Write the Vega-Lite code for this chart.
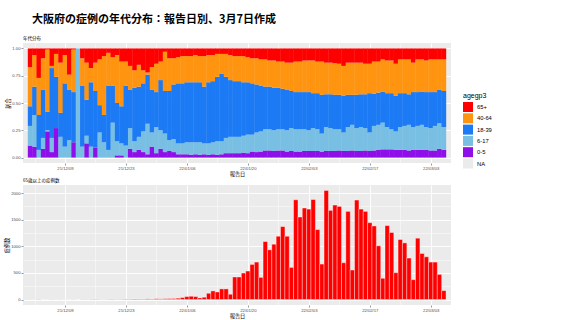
{
"$schema": "https://vega.github.io/schema/vega-lite/v6.json",
"background": "white",
"padding": {"left": 4, "top": 14, "right": 5, "bottom": 1},
"title": {"text": "大阪府の症例の年代分布：報告日別、3月7日作成", "anchor": "start", "frame": "group", "dx": 9, "offset": 11, "font": "Noto Sans CJK JP", "fontSize": 11, "fontWeight": "bold", "color": "#000000"},
"spacing": 1,
"datasets": {
"groups": [{"agegp3": "0-5", "k": 1}, {"agegp3": "6-17", "k": 2}, {"agegp3": "18-39", "k": 3}, {"agegp3": "40-64", "k": 4}, {"agegp3": "65+", "k": 5}],
"shares": [
{"d":"2021-12-01","0-5":0.11,"6-17":0.18,"18-39":0.18,"40-64":0.36,"65+":0.17},
{"d":"2021-12-02","0-5":0.10,"6-17":0.29,"18-39":0.26,"40-64":0.29,"65+":0.06},
{"d":"2021-12-03","0-5":0,"6-17":0.07,"18-39":0.32,"40-64":0.34,"65+":0.27},
{"d":"2021-12-04","0-5":0.08,"6-17":0.10,"18-39":0.44,"40-64":0.29,"65+":0.09},
{"d":"2021-12-05","0-5":0.24,"6-17":0.01,"18-39":0.17,"40-64":0.57,"65+":0.01},
{"d":"2021-12-06","0-5":0.05,"6-17":0.13,"18-39":0.64,"40-64":0.02,"65+":0.16},
{"d":"2021-12-07","0-5":0.27,"6-17":0,"18-39":0.47,"40-64":0.21,"65+":0.05},
{"d":"2021-12-08","0-5":0,"6-17":0.19,"18-39":0.22,"40-64":0.46,"65+":0.13},
{"d":"2021-12-09","0-5":0,"6-17":0.10,"18-39":0.58,"40-64":0.26,"65+":0.06},
{"d":"2021-12-10","0-5":0,"6-17":0.16,"18-39":0.46,"40-64":0.14,"65+":0.24},
{"d":"2021-12-11","0-5":0.14,"6-17":0,"18-39":0.46,"40-64":0.39,"65+":0.01},
{"d":"2021-12-12","0-5":0,"6-17":1,"18-39":0,"40-64":0,"65+":0},
{"d":"2021-12-13","0-5":0,"6-17":0.10,"18-39":0.56,"40-64":0.25,"65+":0.09},
{"d":"2021-12-14","0-5":0.13,"6-17":0.07,"18-39":0.33,"40-64":0.34,"65+":0.13},
{"d":"2021-12-15","0-5":0,"6-17":0.10,"18-39":0.59,"40-64":0.13,"65+":0.18},
{"d":"2021-12-16","0-5":0.09,"6-17":0,"18-39":0.52,"40-64":0.26,"65+":0.13},
{"d":"2021-12-17","0-5":0,"6-17":0.23,"18-39":0.25,"40-64":0.42,"65+":0.10},
{"d":"2021-12-18","0-5":0,"6-17":0.14,"18-39":0.25,"40-64":0.54,"65+":0.07},
{"d":"2021-12-19","0-5":0,"6-17":0.07,"18-39":0.59,"40-64":0.30,"65+":0.04},
{"d":"2021-12-20","0-5":0,"6-17":0.32,"18-39":0.34,"40-64":0.26,"65+":0.08},
{"d":"2021-12-21","0-5":0.02,"6-17":0.13,"18-39":0.35,"40-64":0.44,"65+":0.06},
{"d":"2021-12-22","0-5":0.02,"6-17":0.11,"18-39":0.34,"40-64":0.41,"65+":0.12},
{"d":"2021-12-23","0-5":0,"6-17":0.11,"18-39":0.55,"40-64":0.22,"65+":0.12},
{"d":"2021-12-24","0-5":0.08,"6-17":0.19,"18-39":0.35,"40-64":0.22,"65+":0.16},
{"d":"2021-12-25","0-5":0.05,"6-17":0.10,"18-39":0.49,"40-64":0.16,"65+":0.20},
{"d":"2021-12-26","0-5":0.07,"6-17":0.12,"18-39":0.46,"40-64":0.20,"65+":0.15},
{"d":"2021-12-27","0-5":0.05,"6-17":0.19,"18-39":0.44,"40-64":0.12,"65+":0.20},
{"d":"2021-12-28","0-5":0.03,"6-17":0.28,"18-39":0.45,"40-64":0.02,"65+":0.22},
{"d":"2021-12-29","0-5":0.10,"6-17":0.13,"18-39":0.39,"40-64":0.21,"65+":0.17},
{"d":"2021-12-30","0-5":0.04,"6-17":0.24,"18-39":0.32,"40-64":0.26,"65+":0.14},
{"d":"2021-12-31","0-5":0.08,"6-17":0.17,"18-39":0.46,"40-64":0.17,"65+":0.12},
{"d":"2022-01-01","0-5":0.05,"6-17":0.17,"18-39":0.39,"40-64":0.36,"65+":0.03},
{"d":"2022-01-02","0-5":0.06,"6-17":0.10,"18-39":0.45,"40-64":0.30,"65+":0.09},
{"d":"2022-01-03","0-5":0.05,"6-17":0.12,"18-39":0.50,"40-64":0.24,"65+":0.09},
{"d":"2022-01-04","0-5":0.03,"6-17":0.10,"18-39":0.55,"40-64":0.24,"65+":0.08},
{"d":"2022-01-05","0-5":0.03,"6-17":0.10,"18-39":0.55,"40-64":0.25,"65+":0.07},
{"d":"2022-01-06","0-5":0.03,"6-17":0.11,"18-39":0.55,"40-64":0.24,"65+":0.07},
{"d":"2022-01-07","0-5":0.025,"6-17":0.115,"18-39":0.55,"40-64":0.24,"65+":0.07},
{"d":"2022-01-08","0-5":0.03,"6-17":0.11,"18-39":0.55,"40-64":0.25,"65+":0.06},
{"d":"2022-01-09","0-5":0.025,"6-17":0.115,"18-39":0.55,"40-64":0.24,"65+":0.07},
{"d":"2022-01-10","0-5":0.03,"6-17":0.10,"18-39":0.52,"40-64":0.28,"65+":0.07},
{"d":"2022-01-11","0-5":0.025,"6-17":0.105,"18-39":0.56,"40-64":0.25,"65+":0.06},
{"d":"2022-01-12","0-5":0.03,"6-17":0.11,"18-39":0.56,"40-64":0.24,"65+":0.06},
{"d":"2022-01-13","0-5":0.025,"6-17":0.125,"18-39":0.59,"40-64":0.21,"65+":0.05},
{"d":"2022-01-14","0-5":0.03,"6-17":0.12,"18-39":0.62,"40-64":0.18,"65+":0.05},
{"d":"2022-01-15","0-5":0.04,"6-17":0.14,"18-39":0.56,"40-64":0.21,"65+":0.05},
{"d":"2022-01-16","0-5":0.04,"6-17":0.15,"18-39":0.52,"40-64":0.23,"65+":0.06},
{"d":"2022-01-17","0-5":0.04,"6-17":0.15,"18-39":0.51,"40-64":0.23,"65+":0.07},
{"d":"2022-01-18","0-5":0.04,"6-17":0.15,"18-39":0.51,"40-64":0.23,"65+":0.07},
{"d":"2022-01-19","0-5":0.045,"6-17":0.155,"18-39":0.49,"40-64":0.24,"65+":0.07},
{"d":"2022-01-20","0-5":0.04,"6-17":0.17,"18-39":0.48,"40-64":0.23,"65+":0.08},
{"d":"2022-01-21","0-5":0.055,"6-17":0.155,"18-39":0.47,"40-64":0.23,"65+":0.09},
{"d":"2022-01-22","0-5":0.05,"6-17":0.18,"18-39":0.44,"40-64":0.24,"65+":0.09},
{"d":"2022-01-23","0-5":0.055,"6-17":0.185,"18-39":0.42,"40-64":0.24,"65+":0.10},
{"d":"2022-01-24","0-5":0.065,"6-17":0.195,"18-39":0.39,"40-64":0.25,"65+":0.10},
{"d":"2022-01-25","0-5":0.065,"6-17":0.195,"18-39":0.39,"40-64":0.24,"65+":0.11},
{"d":"2022-01-26","0-5":0.06,"6-17":0.19,"18-39":0.39,"40-64":0.25,"65+":0.11},
{"d":"2022-01-27","0-5":0.065,"6-17":0.195,"18-39":0.38,"40-64":0.24,"65+":0.12},
{"d":"2022-01-28","0-5":0.065,"6-17":0.195,"18-39":0.37,"40-64":0.25,"65+":0.12},
{"d":"2022-01-29","0-5":0.055,"6-17":0.195,"18-39":0.37,"40-64":0.25,"65+":0.13},
{"d":"2022-01-30","0-5":0.06,"6-17":0.21,"18-39":0.34,"40-64":0.26,"65+":0.13},
{"d":"2022-01-31","0-5":0.055,"6-17":0.205,"18-39":0.34,"40-64":0.28,"65+":0.12},
{"d":"2022-02-01","0-5":0.055,"6-17":0.205,"18-39":0.34,"40-64":0.28,"65+":0.12},
{"d":"2022-02-02","0-5":0.06,"6-17":0.20,"18-39":0.34,"40-64":0.29,"65+":0.11},
{"d":"2022-02-03","0-5":0.06,"6-17":0.19,"18-39":0.35,"40-64":0.29,"65+":0.11},
{"d":"2022-02-04","0-5":0.06,"6-17":0.21,"18-39":0.32,"40-64":0.30,"65+":0.11},
{"d":"2022-02-05","0-5":0.06,"6-17":0.20,"18-39":0.33,"40-64":0.29,"65+":0.12},
{"d":"2022-02-06","0-5":0.055,"6-17":0.165,"18-39":0.355,"40-64":0.305,"65+":0.12},
{"d":"2022-02-07","0-5":0.06,"6-17":0.22,"18-39":0.30,"40-64":0.29,"65+":0.13},
{"d":"2022-02-08","0-5":0.06,"6-17":0.21,"18-39":0.31,"40-64":0.29,"65+":0.13},
{"d":"2022-02-09","0-5":0.06,"6-17":0.20,"18-39":0.315,"40-64":0.29,"65+":0.135},
{"d":"2022-02-10","0-5":0.065,"6-17":0.195,"18-39":0.315,"40-64":0.285,"65+":0.14},
{"d":"2022-02-11","0-5":0.06,"6-17":0.17,"18-39":0.335,"40-64":0.275,"65+":0.16},
{"d":"2022-02-12","0-5":0.06,"6-17":0.22,"18-39":0.295,"40-64":0.295,"65+":0.13},
{"d":"2022-02-13","0-5":0.065,"6-17":0.235,"18-39":0.275,"40-64":0.295,"65+":0.13},
{"d":"2022-02-14","0-5":0.06,"6-17":0.21,"18-39":0.305,"40-64":0.295,"65+":0.13},
{"d":"2022-02-15","0-5":0.06,"6-17":0.22,"18-39":0.30,"40-64":0.29,"65+":0.13},
{"d":"2022-02-16","0-5":0.065,"6-17":0.205,"18-39":0.31,"40-64":0.28,"65+":0.14},
{"d":"2022-02-17","0-5":0.06,"6-17":0.17,"18-39":0.36,"40-64":0.27,"65+":0.14},
{"d":"2022-02-18","0-5":0.065,"6-17":0.225,"18-39":0.295,"40-64":0.295,"65+":0.12},
{"d":"2022-02-19","0-5":0.07,"6-17":0.23,"18-39":0.295,"40-64":0.285,"65+":0.12},
{"d":"2022-02-20","0-5":0.075,"6-17":0.245,"18-39":0.285,"40-64":0.295,"65+":0.10},
{"d":"2022-02-21","0-5":0.075,"6-17":0.205,"18-39":0.31,"40-64":0.30,"65+":0.11},
{"d":"2022-02-22","0-5":0.075,"6-17":0.185,"18-39":0.33,"40-64":0.30,"65+":0.11},
{"d":"2022-02-23","0-5":0.07,"6-17":0.17,"18-39":0.325,"40-64":0.295,"65+":0.14},
{"d":"2022-02-24","0-5":0.07,"6-17":0.21,"18-39":0.31,"40-64":0.31,"65+":0.10},
{"d":"2022-02-25","0-5":0.07,"6-17":0.22,"18-39":0.30,"40-64":0.31,"65+":0.10},
{"d":"2022-02-26","0-5":0.065,"6-17":0.235,"18-39":0.28,"40-64":0.32,"65+":0.10},
{"d":"2022-02-27","0-5":0.07,"6-17":0.21,"18-39":0.32,"40-64":0.27,"65+":0.13},
{"d":"2022-02-28","0-5":0.07,"6-17":0.22,"18-39":0.31,"40-64":0.30,"65+":0.10},
{"d":"2022-03-01","0-5":0.07,"6-17":0.23,"18-39":0.305,"40-64":0.295,"65+":0.10},
{"d":"2022-03-02","0-5":0.07,"6-17":0.21,"18-39":0.32,"40-64":0.29,"65+":0.11},
{"d":"2022-03-03","0-5":0.065,"6-17":0.205,"18-39":0.33,"40-64":0.30,"65+":0.10},
{"d":"2022-03-04","0-5":0.065,"6-17":0.225,"18-39":0.31,"40-64":0.30,"65+":0.10},
{"d":"2022-03-05","0-5":0.08,"6-17":0.235,"18-39":0.305,"40-64":0.28,"65+":0.10},
{"d":"2022-03-06","0-5":0.07,"6-17":0.21,"18-39":0.33,"40-64":0.29,"65+":0.10}
],
"old": [
{"d":"2021-12-01","n":3},{"d":"2021-12-02","n":2},{"d":"2021-12-03","n":5},{"d":"2021-12-04","n":1},{"d":"2021-12-05","n":1},{"d":"2021-12-06","n":4},{"d":"2021-12-07","n":2},{"d":"2021-12-08","n":3},{"d":"2021-12-09","n":2},{"d":"2021-12-10","n":1},
{"d":"2021-12-11","n":3},{"d":"2021-12-12","n":0},{"d":"2021-12-13","n":4},{"d":"2021-12-14","n":3},{"d":"2021-12-15","n":5},{"d":"2021-12-16","n":6},{"d":"2021-12-17","n":4},{"d":"2021-12-18","n":3},{"d":"2021-12-19","n":5},{"d":"2021-12-20","n":6},
{"d":"2021-12-21","n":4},{"d":"2021-12-22","n":5},{"d":"2021-12-23","n":8},{"d":"2021-12-24","n":7},{"d":"2021-12-25","n":10},{"d":"2021-12-26","n":9},{"d":"2021-12-27","n":8},{"d":"2021-12-28","n":12},{"d":"2021-12-29","n":10},{"d":"2021-12-30","n":15},
{"d":"2021-12-31","n":12},{"d":"2022-01-01","n":16},{"d":"2022-01-02","n":18},{"d":"2022-01-03","n":20},{"d":"2022-01-04","n":25},{"d":"2022-01-05","n":37},{"d":"2022-01-06","n":56},{"d":"2022-01-07","n":62},{"d":"2022-01-08","n":56},{"d":"2022-01-09","n":31},
{"d":"2022-01-10","n":44},{"d":"2022-01-11","n":118},{"d":"2022-01-12","n":162},{"d":"2022-01-13","n":143},{"d":"2022-01-14","n":200},{"d":"2022-01-15","n":200},{"d":"2022-01-16","n":100},{"d":"2022-01-17","n":424},{"d":"2022-01-18","n":424},{"d":"2022-01-19","n":498},
{"d":"2022-01-20","n":536},{"d":"2022-01-21","n":660},{"d":"2022-01-22","n":704},{"d":"2022-01-23","n":417},{"d":"2022-01-24","n":1090},{"d":"2022-01-25","n":935},{"d":"2022-01-26","n":1040},{"d":"2022-01-27","n":1190},{"d":"2022-01-28","n":1371},{"d":"2022-01-29","n":1190},
{"d":"2022-01-30","n":604},{"d":"2022-01-31","n":1875},{"d":"2022-02-01","n":1551},{"d":"2022-02-02","n":1720},{"d":"2022-02-03","n":1700},{"d":"2022-02-04","n":1880},{"d":"2022-02-05","n":1315},{"d":"2022-02-06","n":667},{"d":"2022-02-07","n":2050},{"d":"2022-02-08","n":1676},
{"d":"2022-02-09","n":1776},{"d":"2022-02-10","n":1750},{"d":"2022-02-11","n":692},{"d":"2022-02-12","n":1657},{"d":"2022-02-13","n":555},{"d":"2022-02-14","n":1870},{"d":"2022-02-15","n":1700},{"d":"2022-02-16","n":1657},{"d":"2022-02-17","n":1445},{"d":"2022-02-18","n":1383},
{"d":"2022-02-19","n":1010},{"d":"2022-02-20","n":400},{"d":"2022-02-21","n":1390},{"d":"2022-02-22","n":1260},{"d":"2022-02-23","n":505},{"d":"2022-02-24","n":1128},{"d":"2022-02-25","n":1065},{"d":"2022-02-26","n":780},{"d":"2022-02-27","n":374},{"d":"2022-02-28","n":1153},
{"d":"2022-03-01","n":866},{"d":"2022-03-02","n":804},{"d":"2022-03-03","n":704},{"d":"2022-03-04","n":704},{"d":"2022-03-05","n":473},{"d":"2022-03-06","n":168}
]
},
"vconcat": [
{
"width": 428, "height": 120,
"title": {"text": "年代分布", "anchor": "start", "frame": "group", "offset": 2.5, "font": "Noto Sans CJK JP", "fontSize": 4.5, "fontWeight": "normal", "color": "#000000"},
"data": {"name": "shares"},
"transform": [
{"fold": ["0-5", "6-17", "18-39", "40-64", "65+"], "as": ["agegp3", "share"]},
{"lookup": "agegp3", "from": {"data": {"name": "groups"}, "key": "agegp3", "fields": ["k"]}}
],
"mark": {"type": "bar", "size": 4.75},
"encoding": {
"x": {"field": "d", "type": "temporal", "title": "報告日",
"scale": {"type": "utc", "domain": [{"year": 2021, "month": 11, "date": 30, "hours": 12, "utc": true}, {"year": 2022, "month": 3, "date": 6, "hours": 12, "utc": true}]},
"axis": {"values": [{"year":2021,"month":12,"date":2,"utc":true},{"year":2021,"month":12,"date":9,"utc":true},{"year":2021,"month":12,"date":16,"utc":true},{"year":2021,"month":12,"date":23,"utc":true},{"year":2021,"month":12,"date":30,"utc":true},{"year":2022,"month":1,"date":6,"utc":true},{"year":2022,"month":1,"date":13,"utc":true},{"year":2022,"month":1,"date":20,"utc":true},{"year":2022,"month":1,"date":27,"utc":true},{"year":2022,"month":2,"date":3,"utc":true},{"year":2022,"month":2,"date":10,"utc":true},{"year":2022,"month":2,"date":17,"utc":true},{"year":2022,"month":2,"date":24,"utc":true},{"year":2022,"month":3,"date":3,"utc":true}],
"labelExpr": "indexof([3,6,9,17,20,23], utcdate(datum.value)) >= 0 ? utcFormat(datum.value, '%y/%m/%d') : ''",
"tickOpacity": {"condition": {"test": "indexof([3,6,9,17,20,23], utcdate(datum.value)) >= 0", "value": 1}, "value": 0},
"gridWidth": {"condition": {"test": "indexof([3,6,9,17,20,23], utcdate(datum.value)) >= 0", "value": 0.9}, "value": 0.45}}},
"y": {"field": "share", "type": "quantitative", "stack": "normalize", "title": "割合",
"scale": {"domain": [-0.05, 1.05], "nice": false},
"axis": {"values": [0, 0.25, 0.5, 0.75, 1], "labelExpr": "format(datum.value, '.2f')"}},
"color": {"field": "agegp3", "type": "nominal",
"scale": {"domain": ["65+", "40-64", "18-39", "6-17", "0-5", "NA"], "range": ["#FF0000", "#FF9410", "#1C7AF4", "#78BFE3", "#8F0FE8", "#EBEBEB"]},
"legend": {"title": "agegp3", "orient": "none", "legendX": 440, "legendY": 49, "titleFont": "Liberation Sans", "titleFontSize": 7, "titleFontWeight": "normal", "titleColor": "#000000", "titlePadding": 3, "labelFont": "Liberation Sans", "labelFontSize": 5.8, "labelColor": "#000000", "labelOffset": 4, "symbolType": "square", "symbolSize": 100, "symbolStrokeWidth": 0, "symbolOpacity": 1, "rowPadding": 1.3}},
"order": {"field": "k", "type": "quantitative"}
}
},
{
"width": 428, "height": 120,
"title": {"text": "65歳以上の症例数", "anchor": "start", "frame": "group", "offset": 2.5, "font": "Noto Sans CJK JP", "fontSize": 4.5, "fontWeight": "normal", "color": "#000000"},
"data": {"name": "old"},
"mark": {"type": "bar", "size": 4.46, "color": "#FF0000", "stroke": "#FFFFFF", "strokeWidth": 0.4},
"encoding": {
"x": {"field": "d", "type": "temporal", "title": "報告日",
"scale": {"type": "utc", "domain": [{"year": 2021, "month": 11, "date": 30, "hours": 12, "utc": true}, {"year": 2022, "month": 3, "date": 6, "hours": 12, "utc": true}]},
"axis": {"values": [{"year":2021,"month":12,"date":2,"utc":true},{"year":2021,"month":12,"date":9,"utc":true},{"year":2021,"month":12,"date":16,"utc":true},{"year":2021,"month":12,"date":23,"utc":true},{"year":2021,"month":12,"date":30,"utc":true},{"year":2022,"month":1,"date":6,"utc":true},{"year":2022,"month":1,"date":13,"utc":true},{"year":2022,"month":1,"date":20,"utc":true},{"year":2022,"month":1,"date":27,"utc":true},{"year":2022,"month":2,"date":3,"utc":true},{"year":2022,"month":2,"date":10,"utc":true},{"year":2022,"month":2,"date":17,"utc":true},{"year":2022,"month":2,"date":24,"utc":true},{"year":2022,"month":3,"date":3,"utc":true}],
"labelExpr": "indexof([3,6,9,17,20,23], utcdate(datum.value)) >= 0 ? utcFormat(datum.value, '%y/%m/%d') : ''",
"tickOpacity": {"condition": {"test": "indexof([3,6,9,17,20,23], utcdate(datum.value)) >= 0", "value": 1}, "value": 0},
"gridWidth": {"condition": {"test": "indexof([3,6,9,17,20,23], utcdate(datum.value)) >= 0", "value": 0.9}, "value": 0.45}}},
"y": {"field": "n", "type": "quantitative", "title": "症例数",
"scale": {"domain": [-102.5, 2152.5], "nice": false},
"axis": {"values": [0, 250, 500, 750, 1000, 1250, 1500, 1750, 2000], "format": "d",
"labelExpr": "datum.value % 500 == 0 ? datum.label : ''",
"tickOpacity": {"condition": {"test": "datum.value % 500 == 0", "value": 1}, "value": 0},
"gridWidth": {"condition": {"test": "datum.value % 500 == 0", "value": 0.9}, "value": 0.45}}}
}
}
],
"config": {
"view": {"fill": "#EBEBEB", "stroke": null},
"axis": {"domain": false, "labelFont": "Liberation Sans", "labelFontSize": 4.2, "labelColor": "#4D4D4D", "labelPadding": 1, "tickColor": "#333333", "tickSize": 2, "tickWidth": 0.5, "titleFont": "Noto Sans CJK JP", "titleFontSize": 5.2, "titleFontWeight": "normal", "titleColor": "#000000", "titlePadding": 1, "gridColor": "#FFFFFF", "gridOpacity": 1}
}
}
